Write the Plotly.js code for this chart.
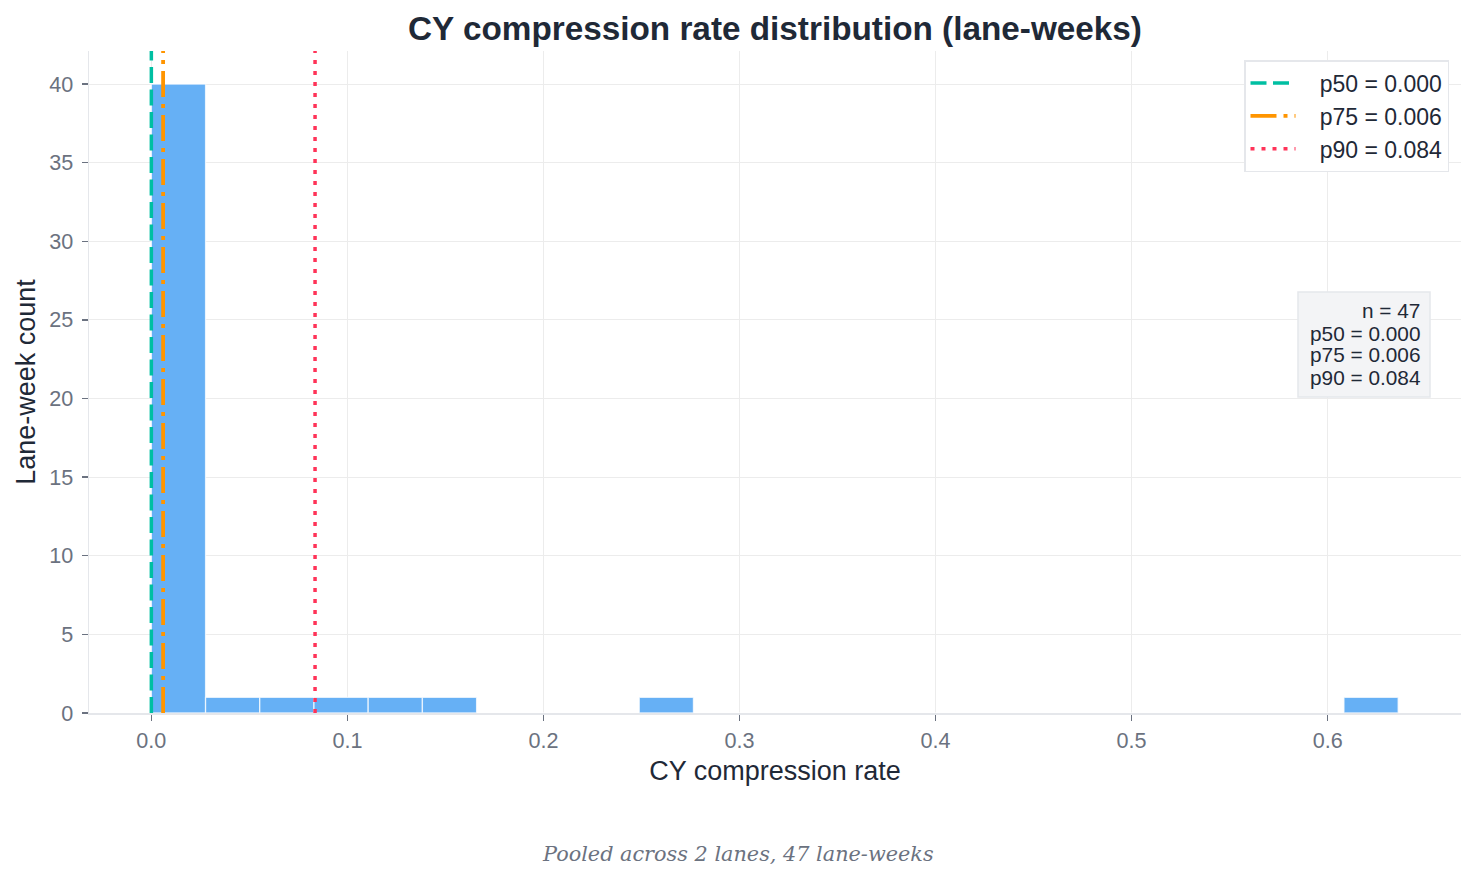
<!DOCTYPE html>
<html>
<head>
<meta charset="utf-8">
<script src="https://cdn.plot.ly/plotly-3.0.1.min.js"></script>
<style>
  html, body { margin: 0; padding: 0; background: #ffffff; }
  #chart { width: 1476px; height: 879px; }
</style>
</head>
<body>
<div id="chart"></div>
<script>
// ---- Data ----
const binStart = 0.0;
const binWidth = 0.02765;          // 23 equal bins spanning 0 .. ~0.636
const binCounts = [40, 1, 1, 1, 1, 1, 0, 0, 0, 1, 0, 0, 0, 0, 0, 0, 0, 0, 0, 0, 0, 0, 1];
const percentileNames = ["p50", "p75", "p90"];
const percentileValues = [0.000, 0.006, 0.0835];
const percentileLabels = ["0.000", "0.006", "0.084"];
const nObs = 47;
const nLanes = 2;
const xTickVals = [0.0, 0.1, 0.2, 0.3, 0.4, 0.5, 0.6];
const yTickVals = [0, 5, 10, 15, 20, 25, 30, 35, 40];
const xRange = [-0.0318, 0.668];
const yRange = [0, 42.1];

// ---- Build traces ----
const binCenters = binCounts.map((_, i) => binStart + (i + 0.5) * binWidth);

const traces = [];
traces.push({
  type: "bar",
  x: binCenters,
  y: binCounts,
  width: binCounts.map(() => binWidth),
  marker: { color: "#66b0f5", line: { color: "rgba(255,255,255,0.75)", width: 1.3 } },
  showlegend: false,
  hoverinfo: "x+y"
});

const lineStyles = [
  { color: "#00bfa2", dash: "16px,6.5px", width: 3.5 },
  { color: "#ff9500", dash: "26px,7px,4px,7px", width: 3.8 },
  { color: "#ff3358", dash: "4px,7px", width: 3.5 }
];
percentileNames.forEach((nm, i) => {
  traces.push({
    type: "scatter",
    mode: "lines",
    x: [percentileValues[i], percentileValues[i]],
    y: [yRange[0], yRange[1]],
    name: "\u00a0\u00a0\u00a0" + nm + " = " + percentileLabels[i],
    line: lineStyles[i],
    hoverinfo: "name"
  });
});

// ---- Stats box ----
const statLines = ["n = " + nObs].concat(percentileNames.map((nm, i) => nm + " = " + percentileLabels[i]));

const L = 89, R = 1461, T = 51, B = 713;
const W = 1476, H = 879;
const pw = R - L, ph = B - T;
const px2x = (px) => (px - L) / pw;
const px2y = (py) => (B - py) / ph;

const annotations = statLines.map((t, i) => ({
  xref: "paper", yref: "paper",
  x: px2x(1422), y: px2y(311 + 22 * i),
  xanchor: "right", yanchor: "middle",
  text: t, showarrow: false,
  font: { family: "Liberation Sans, Arial, sans-serif", size: 20.8, color: "#1f2937" }
}));
annotations.push({
  xref: "paper", yref: "paper",
  x: px2x(738), y: px2y(854),
  xanchor: "center", yanchor: "middle",
  text: "<i>Pooled across " + nLanes + " lanes, " + nObs + " lane-weeks</i>",
  showarrow: false,
  font: { family: "DejaVu Serif, serif", size: 20.8, color: "#6b7280" }
});

const shapes = [{
  type: "rect", xref: "paper", yref: "paper",
  x0: px2x(1298), x1: px2x(1430), y0: px2y(397), y1: px2y(292),
  fillcolor: "#f3f4f6", line: { color: "#e5e7eb", width: 1.5 }, layer: "above"
}];

const layout = {
  width: W, height: H,
  margin: { l: L, r: W - R, t: T, b: H - B, pad: 0 },
  paper_bgcolor: "#ffffff",
  plot_bgcolor: "#ffffff",
  font: { family: "Liberation Sans, Arial, sans-serif", color: "#1f2937" },
  title: {
    text: "<b>CY compression rate distribution (lane-weeks)</b>",
    font: { size: 33.3, color: "#1f2937", family: "Liberation Sans, Arial, sans-serif" },
    xref: "paper", x: 0.5, xanchor: "center",
    yref: "container", y: 1 - 28 / H, yanchor: "middle"
  },
  bargap: 0,
  xaxis: {
    range: xRange,
    tickvals: xTickVals,
    ticktext: xTickVals.map(v => v.toFixed(1)),
    showgrid: true, gridcolor: "#ececec", gridwidth: 1,
    zeroline: false,
    showline: true, linecolor: "#e5e7eb", linewidth: 1.5,
    ticks: "outside", ticklen: 6, tickwidth: 1.3, tickcolor: "#6b7280",
    tickfont: { size: 21.6, color: "#6b7280" },
    ticklabelstandoff: 2,
    title: { text: "CY compression rate", font: { size: 27, color: "#1f2937" }, standoff: 8 }
  },
  yaxis: {
    range: yRange,
    tickvals: yTickVals,
    showgrid: true, gridcolor: "#ececec", gridwidth: 1,
    zeroline: false,
    showline: true, linecolor: "#e5e7eb", linewidth: 1.5,
    ticks: "outside", ticklen: 6, tickwidth: 1.3, tickcolor: "#6b7280",
    tickfont: { size: 21.6, color: "#6b7280" },
    ticklabelstandoff: 4,
    title: { text: "Lane-week count", font: { size: 27, color: "#1f2937" }, standoff: 5 }
  },
  legend: {
    x: px2x(1449), y: px2y(60), xanchor: "right", yanchor: "top",
    bgcolor: "#ffffff", bordercolor: "#e5e7eb", borderwidth: 1.5,
    font: { size: 23, color: "#1f2937" },
    itemwidth: 45
  },
  annotations: annotations,
  shapes: shapes
};

Plotly.newPlot("chart", traces, layout, { displayModeBar: false, staticPlot: true });
</script>
</body>
</html>
